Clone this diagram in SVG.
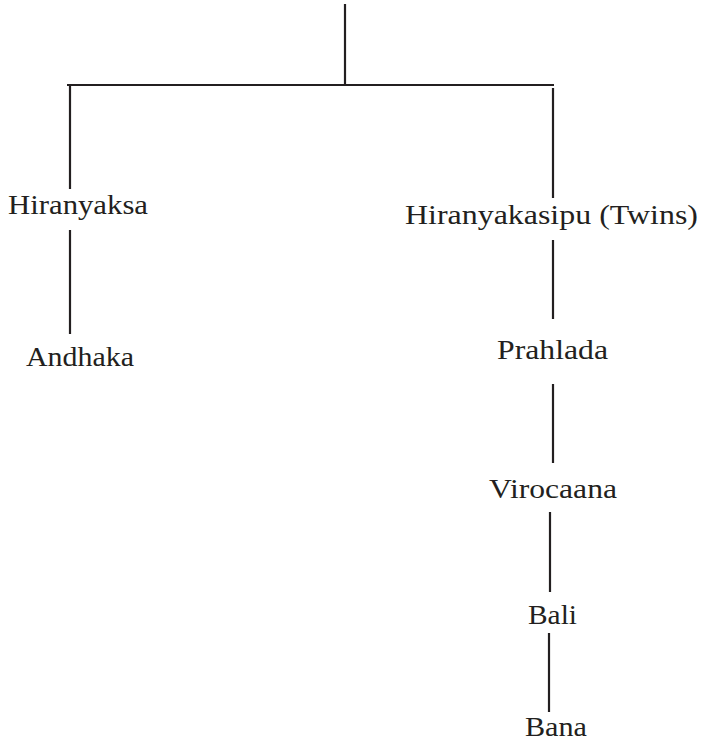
<svg xmlns="http://www.w3.org/2000/svg" width="704" height="743" viewBox="0 0 704 743">
<style>
.t{font-size:27px;fill:#231f20}
.c line{stroke:#231f20;stroke-width:2.2}
</style>
<rect width="704" height="743" fill="#fff"/>
<g class="c" id="connectors">
<line x1="345" y1="4" x2="345" y2="85"/>
<line x1="67" y1="85" x2="554" y2="85"/>
<line x1="70" y1="86" x2="70" y2="189"/>
<line x1="553" y1="88" x2="553" y2="198"/>
<line x1="70" y1="230" x2="70" y2="334"/>
<line x1="553" y1="240" x2="553" y2="319"/>
<line x1="553" y1="384" x2="553" y2="463"/>
<line x1="550" y1="512" x2="550" y2="592"/>
<line x1="549" y1="633" x2="549" y2="712"/>
</g>
<g font-family="Liberation Serif, Times New Roman, serif">
<g id="hiranyaksa"><text class="t" x="8" y="214" textLength="140" lengthAdjust="spacingAndGlyphs">Hiranyaksa</text></g>
<g id="andhaka"><text class="t" x="26" y="366" textLength="108" lengthAdjust="spacingAndGlyphs">Andhaka</text></g>
<g id="hiranyakasipu"><text class="t" x="405" y="224" textLength="293" lengthAdjust="spacingAndGlyphs">Hiranyakasipu  (Twins)</text></g>
<g id="prahlada"><text class="t" x="497" y="359" textLength="111" lengthAdjust="spacingAndGlyphs">Prahlada</text></g>
<g id="virocaana"><text class="t" x="489" y="498" textLength="128" lengthAdjust="spacingAndGlyphs">Virocaana</text></g>
<g id="bali"><text class="t" x="528" y="624" textLength="49" lengthAdjust="spacingAndGlyphs">Bali</text></g>
<g id="bana"><text class="t" x="525" y="736" textLength="62" lengthAdjust="spacingAndGlyphs">Bana</text></g>
</g>
</svg>
